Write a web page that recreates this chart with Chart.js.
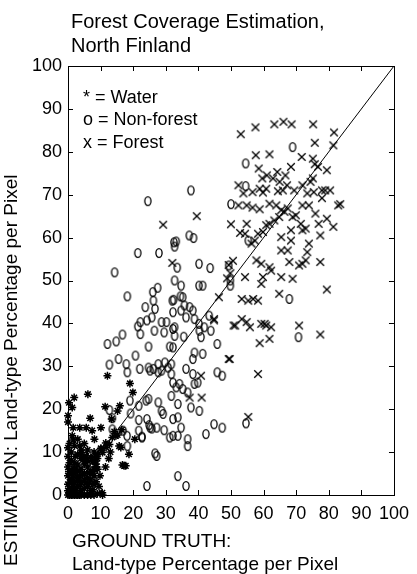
<!DOCTYPE html>
<html>
<head>
<meta charset="utf-8">
<script src="https://cdn.jsdelivr.net/npm/chart.js@4.4.1/dist/chart.umd.min.js"></script>
<style>
  body { margin: 0; background: #fff; }
  #wrap { width: 417px; height: 574px; position: relative; }
</style>
</head>
<body>
<div id="wrap"><canvas id="myChart"></canvas></div>
<script>
'use strict'
// axis ticks
var tickValues = [0, 10, 20, 30, 40, 50, 60, 70, 80, 90, 100];

var titleLines = ['Forest Coverage Estimation,', 'North Finland'];
var xTitleLines = ['GROUND TRUTH:', 'Land-type Percentage per Pixel'];
var yTitle = 'ESTIMATION: Land-type Percentage per Pixel';
var legendLines = ['* = Water', 'o = Non-forest', 'x = Forest'];

// 1:1 reference line
var lineX = [0, 100];
var lineY = [0, 100];

// [ground truth, estimation]
var forestPoints = [
  [53.0, 84.1], [57.5, 85.7], [63.3, 86.4], [66.1, 87.0], [68.6, 86.4], [75.2, 86.4], [81.6, 84.5],
  [75.7, 82.1], [81.4, 81.5], [57.6, 79.2], [61.8, 79.4], [71.7, 78.8], [75.1, 78.4], [75.7, 77.1],
  [79.4, 75.7], [58.5, 76.1], [76.7, 76.5], [59.6, 73.8], [61.0, 74.5], [62.9, 73.8], [64.2, 75.3],
  [64.9, 73.0], [66.7, 74.5], [68.4, 76.5], [67.2, 72.2], [71.9, 72.2], [74.4, 73.0], [75.1, 73.8],
  [77.9, 71.0], [80.4, 71.0], [78.9, 71.0], [69.4, 71.0], [65.9, 71.0], [60.8, 71.4], [58.8, 71.4],
  [52.3, 72.2], [56.6, 70.6], [53.8, 70.3], [59.8, 70.5], [64.4, 70.8], [73.4, 70.3], [75.4, 70.6],
  [52.3, 67.5], [54.8, 67.5], [56.6, 67.0], [58.8, 66.6], [61.8, 67.9], [63.9, 67.5], [65.4, 66.4],
  [67.4, 66.8], [71.9, 67.5], [73.9, 67.5], [75.9, 65.6], [77.9, 69.2], [82.9, 67.5], [83.5, 67.8],
  [50.0, 63.1], [54.8, 63.2], [52.8, 61.1], [54.3, 60.9], [66.4, 66.0], [64.8, 64.8], [63.3, 64.0],
  [61.8, 63.2], [60.8, 62.9], [59.8, 61.3], [58.3, 60.9], [57.3, 59.3], [56.3, 58.6], [68.9, 64.8],
  [69.9, 65.2], [71.4, 63.2], [71.9, 61.7], [72.9, 62.1], [68.4, 61.7], [76.9, 63.2], [79.4, 64.4],
  [81.4, 62.5], [77.4, 60.5], [65.4, 60.1], [65.4, 57.0], [67.4, 57.0], [68.4, 59.3], [67.9, 54.3],
  [73.9, 58.6], [73.4, 56.6], [72.9, 54.7], [70.9, 53.5], [71.9, 53.9], [77.4, 54.3], [65.4, 50.8],
  [68.9, 50.4], [61.8, 53.1], [59.3, 53.9], [57.8, 54.7], [62.3, 52.3], [59.8, 50.8], [59.3, 49.2],
  [54.3, 50.8], [53.3, 45.7], [55.3, 45.3], [56.8, 45.7], [58.3, 45.3], [64.8, 46.9], [79.4, 47.9],
  [53.3, 41.0], [54.8, 40.3], [51.3, 39.5], [55.8, 39.1], [59.3, 39.9], [60.8, 39.5], [62.3, 39.1],
  [70.9, 39.5], [77.4, 37.4], [58.8, 35.4], [61.8, 36.4], [49.6, 31.7], [58.3, 28.2], [55.3, 18.2],
  [60.3, 39.9], [39.5, 65.0], [29.2, 63.0], [32.0, 54.1], [44.8, 41.0], [46.3, 46.1], [48.8, 50.5],
  [49.8, 51.7], [50.6, 54.6], [49.3, 53.6], [44.8, 40.7], [50.8, 39.5], [49.3, 31.7], [40.8, 27.8],
  [41.0, 22.7], [37.3, 22.7]
];

var nonForestPoints = [
  [68.9, 81.1], [54.5, 77.3], [54.5, 72.0], [50.0, 67.8], [55.3, 59.3], [67.9, 45.7], [70.7, 36.8],
  [54.6, 16.7], [49.3, 53.5], [49.8, 50.0], [37.7, 71.0], [24.5, 68.5], [37.2, 60.5], [38.5, 59.9],
  [32.5, 58.9], [33.2, 59.1], [32.7, 57.9], [21.4, 56.4], [27.9, 56.4], [33.5, 53.0], [40.2, 53.9],
  [43.6, 52.9], [14.3, 51.9], [32.7, 50.0], [34.7, 48.8], [40.2, 48.8], [41.3, 48.8], [18.2, 46.3],
  [26.0, 47.3], [27.5, 48.3], [26.2, 45.3], [26.7, 43.4], [23.7, 43.8], [32.0, 45.3], [32.4, 45.5],
  [34.5, 46.3], [35.2, 46.1], [35.7, 44.2], [37.3, 43.8], [38.3, 43.0], [32.2, 42.6], [34.7, 43.0],
  [36.2, 41.4], [38.8, 41.0], [22.2, 40.3], [24.2, 40.7], [25.7, 41.4], [28.7, 40.3], [30.2, 40.3],
  [21.4, 39.3], [32.7, 39.1], [40.2, 39.9], [43.3, 41.8], [49.8, 48.8], [26.5, 38.3], [29.5, 37.9],
  [32.2, 38.7], [32.7, 37.1], [35.5, 36.9], [16.7, 37.4], [14.8, 35.8], [12.1, 35.2], [22.2, 37.5],
  [24.7, 34.6], [31.2, 34.6], [32.2, 34.4], [20.7, 32.5], [15.5, 31.7], [12.7, 30.4], [17.9, 30.5],
  [18.2, 28.6], [22.0, 29.4], [24.7, 29.7], [25.2, 29.0], [26.2, 29.4], [27.7, 30.5], [28.7, 29.0],
  [29.7, 30.9], [30.7, 29.7], [31.7, 30.5], [27.7, 28.6], [31.7, 28.2], [32.2, 26.2], [33.2, 25.1],
  [31.7, 23.1], [34.2, 25.9], [35.2, 24.7], [36.7, 23.9], [38.8, 25.9], [39.8, 26.2], [36.2, 29.4],
  [38.3, 28.2], [41.3, 32.9], [38.3, 31.7], [38.8, 33.2], [45.8, 35.2], [43.8, 38.3], [41.8, 39.1],
  [40.3, 38.3], [40.8, 36.8], [45.8, 28.6], [47.3, 27.8], [33.7, 21.2], [37.7, 20.4], [40.3, 19.6],
  [19.0, 22.0], [21.7, 20.8], [24.0, 22.0], [24.7, 22.4], [27.7, 21.6], [28.7, 19.6], [29.2, 18.9],
  [32.2, 17.7], [33.7, 18.1], [24.2, 17.7], [27.2, 15.7], [25.2, 15.7], [29.5, 15.1], [34.7, 15.7],
  [21.7, 15.0], [22.7, 13.4], [31.2, 13.4], [32.2, 13.8], [33.7, 13.8], [36.7, 13.0], [36.7, 11.4],
  [42.3, 14.2], [44.8, 16.5], [47.3, 15.7], [13.6, 15.3], [16.9, 15.0], [18.1, 13.8], [18.2, 11.4],
  [27.2, 9.1], [24.2, 2.1], [33.7, 4.4], [36.2, 2.1], [12.7, 19.8], [13.6, 17.9], [19.2, 19.0],
  [21.7, 17.5], [22.7, 13.6], [26.7, 9.7], [24.9, 16.3], [25.7, 15.5]
];

var waterPoints = [
  [12.1, 27.8], [19.0, 26.0], [19.9, 23.9], [1.9, 22.7], [6.1, 23.5], [1.3, 20.4], [11.4, 20.6],
  [15.2, 19.6], [15.9, 20.8], [13.4, 17.7], [6.8, 17.9], [1.6, 15.7], [3.6, 15.7], [5.6, 15.7],
  [7.4, 15.0], [10.1, 15.7], [1.3, 13.8], [8.1, 13.0], [3.6, 11.4], [4.1, 9.9], [4.6, 8.7],
  [10.1, 10.7], [9.1, 9.5], [12.7, 11.8], [13.6, 13.4], [14.7, 13.8], [15.7, 11.4], [16.2, 11.1],
  [18.7, 9.5], [20.5, 13.0], [17.2, 6.8], [17.7, 6.8], [10.6, 9.9], [11.7, 11.1], [7.6, 7.9],
  [8.6, 7.2], [9.1, 6.0], [5.6, 9.1], [5.1, 7.2], [2.1, 5.6], [3.6, 4.4],
  [0, 0], [0.5, 0], [1, 0], [1.5, 0], [2, 0], [2.5, 0], [3, 0], [3.5, 0], [4, 0], [5, 0], [6, 0],
  [7, 0], [8, 0], [9, 0.3], [10.5, 0.5], [0, 1], [0.5, 1.5], [1, 1], [1.5, 2], [2, 1], [2.5, 1.5],
  [3, 2], [4, 1], [5, 1.5], [6, 2], [7, 1], [8, 2.5], [0, 2.5], [0.5, 3], [1, 3.5], [1.5, 4],
  [2, 3], [3, 3.5], [4, 3], [5, 3.5], [6, 4], [7, 3.5], [8, 4.5], [0, 4.5], [0.3, 5.5], [1, 5],
  [2, 6], [3, 5.5], [4, 6], [5, 5], [6, 6.5], [7, 5.5], [8, 6], [0, 6.5], [0.5, 7.5], [1, 8],
  [2, 7.5], [3, 7], [4, 8.5], [6, 8], [7, 8.8], [9, 8.5], [8, 10], [6, 10.5], [3, 9.5], [1, 10],
  [0.5, 12], [2, 11.5], [0, 9], [0, 11], [0, 17], [0, 18.5], [0.3, 21.5],
  [14.2, 14.8], [11.6, 12.1], [10.1, 10.9], [8.6, 8.9], [7.6, 7.8], [8.6, 6.6], [7.6, 5.1],
  [8.6, 3.1], [6.6, 2.7], [15.2, 14.0], [16.5, 15.2], [16.7, 7.0], [4.1, 10.5], [4.6, 8.6],
  [5.1, 7.8], [1.6, 6.2], [2.1, 5.1], [7.6, 1.2], [10.6, 0],
  [0.5, 0.5], [1.2, 2.8], [2.8, 4.2], [3.8, 2.4], [4.5, 4.8], [5.5, 2.8], [6.5, 5.2], [2.2, 9],
  [1.6, 12.8], [3, 13], [5, 12], [9.5, 2], [9.8, 4.5], [11.5, 6.5], [12.5, 8.5], [13, 10]
];

function toXY(arr) {
  return arr.map(function (p) { return { x: p[0], y: p[1] }; });
}

// little marker images: "o" is an upright oval, "x" a letter-like cross
function ovalImg() {
  var c = document.createElement('canvas');
  c.width = 10; c.height = 12;
  var g = c.getContext('2d');
  g.strokeStyle = '#000'; g.lineWidth = 1.3;
  g.beginPath();
  g.ellipse(5, 6, 3.1, 4.3, 0, 0, Math.PI * 2);
  g.stroke();
  return c;
}
function crossImg() {
  var c = document.createElement('canvas');
  c.width = 10; c.height = 10;
  var g = c.getContext('2d');
  g.strokeStyle = '#000'; g.lineWidth = 1.3;
  g.beginPath();
  g.moveTo(1.2, 1.2); g.lineTo(8.8, 8.8);
  g.moveTo(8.8, 1.2); g.lineTo(1.2, 8.8);
  g.stroke();
  return c;
}

var FONT = "'Liberation Sans', Arial, sans-serif";

var framePlugin = {
  id: 'frame',
  afterDraw: function (chart) {
    var ctx = chart.ctx;
    var a = chart.chartArea;
    var xs = chart.scales.x;
    var ys = chart.scales.y;
    ctx.save();
    ctx.strokeStyle = '#000';
    ctx.lineWidth = 1;
    ctx.strokeRect(Math.round(a.left) + 0.5, Math.round(a.top) + 0.5,
      Math.round(a.right - a.left), Math.round(a.bottom - a.top));
    ctx.beginPath();
    for (var i = 0; i < tickValues.length; i++) {
      var px = Math.round(xs.getPixelForValue(tickValues[i])) + 0.5;
      ctx.moveTo(px, a.bottom); ctx.lineTo(px, a.bottom - 5);
      ctx.moveTo(px, a.top); ctx.lineTo(px, a.top + 5);
      var py = Math.round(ys.getPixelForValue(tickValues[i])) + 0.5;
      ctx.moveTo(a.left, py); ctx.lineTo(a.left + 5, py);
      ctx.moveTo(a.right, py); ctx.lineTo(a.right - 5, py);
    }
    ctx.stroke();

    ctx.fillStyle = '#000';
    ctx.textAlign = 'left';
    ctx.textBaseline = 'middle';
    ctx.font = '20px ' + FONT;
    ctx.fillText(titleLines[0], 71, 22);
    ctx.fillText(titleLines[1], 71, 46);
    ctx.font = '19px ' + FONT;
    ctx.fillText(xTitleLines[0], 72, 542);
    ctx.fillText(xTitleLines[1], 72, 565);
    ctx.font = '18px ' + FONT;
    for (var j = 0; j < legendLines.length; j++) {
      ctx.fillText(legendLines[j], 83, 98 + j * 22.5);
    }
    ctx.font = '19px ' + FONT;
    ctx.translate(12, 566);
    ctx.rotate(-Math.PI / 2);
    ctx.fillText(yTitle, 0, 0);
    ctx.restore();
  }
};

var ctx = document.getElementById('myChart').getContext('2d');

var chart = new Chart(ctx, {
  type: 'scatter',
  data: {
    datasets: [{
      label: 'Water',
      data: toXY(waterPoints),
      pointStyle: 'star',
      radius: 4,
      borderColor: '#000',
      backgroundColor: '#000',
      borderWidth: 1.5,
      clip: false
    }, {
      label: 'Non-forest',
      data: toXY(nonForestPoints),
      pointStyle: ovalImg(),
      radius: 4,
      clip: false
    }, {
      label: 'Forest',
      data: toXY(forestPoints),
      pointStyle: crossImg(),
      radius: 4,
      clip: false
    }, {
      type: 'line',
      label: 'diag',
      data: lineX.map(function (v, i) { return { x: v, y: lineY[i] }; }),
      borderColor: '#000',
      borderWidth: 1,
      pointRadius: 0,
      fill: false
    }]
  },
  options: {
    responsive: true,
    maintainAspectRatio: false,
    animation: false,
    layout: { padding: { top: 66, right: 17, left: 0, bottom: 0 } },
    plugins: { legend: { display: false }, tooltip: { enabled: false } },
    scales: {
      x: {
        type: 'linear', min: 0, max: 100,
        afterFit: function (s) { s.height = 79; },
        afterBuildTicks: function (s) { s.ticks = tickValues.map(function (v) { return { value: v }; }); },
        grid: { display: false, drawTicks: false },
        border: { display: false },
        ticks: { color: '#000', font: { size: 18, family: FONT }, padding: 8, maxRotation: 0, autoSkip: false }
      },
      y: {
        type: 'linear', min: 0, max: 100,
        afterFit: function (s) { s.width = 68; },
        afterBuildTicks: function (s) { s.ticks = tickValues.map(function (v) { return { value: v }; }); },
        grid: { display: false, drawTicks: false },
        border: { display: false },
        ticks: { color: '#000', font: { size: 18, family: FONT }, padding: 6, autoSkip: false }
      }
    }
  },
  plugins: [framePlugin]
});
</script>
</body>
</html>
